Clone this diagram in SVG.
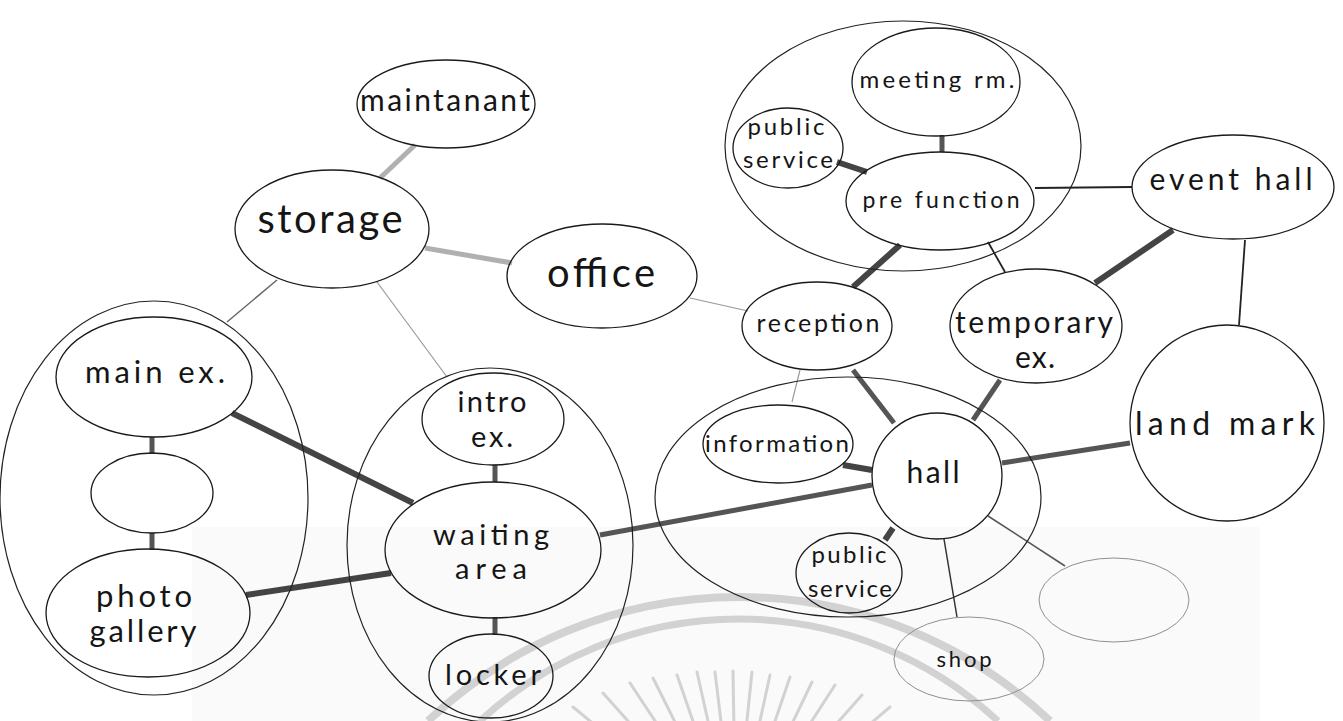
<svg xmlns="http://www.w3.org/2000/svg" width="1343" height="721" viewBox="0 0 1343 721">
  <style>
    .node { fill: none; stroke: #1a1a1a; stroke-width: 1.3; }
    .group { fill: none; stroke: #222; stroke-width: 1.2; }
    .faint { fill: none; stroke: #8f8f8f; stroke-width: 1; }
    .lbl { font-family: "Lato", "Liberation Sans", sans-serif; font-weight: 400; fill: #151515; text-anchor: middle; }
    .c { fill: none; stroke-linecap: butt; }
    .thick { stroke: #444; stroke-width: 6; }
    .mid { stroke: #555; stroke-width: 5; }
    .pale { stroke: #b0b0b0; stroke-width: 5; }
    .thin { stroke: #222; stroke-width: 1.8; }
    .hair { stroke: #999; stroke-width: 1.2; }
    .mark { fill: none; stroke: #d2d2d2; }
  </style>

  <rect x="0" y="0" width="1343" height="721" fill="#ffffff"/>
  <rect x="192" y="527" width="1068" height="194" fill="#fafafa"/>

  <!-- seal printed under the diagram -->
  <g id="seal" class="mark">
    <path d="M 428 721 A 452 452 0 0 1 1050 721" stroke-width="8"/>
    <path d="M 480 721 A 380 380 0 0 1 998 721" stroke-width="7"/>
    <g stroke-width="3" stroke-linecap="round">
      <line x1="573" y1="707" x2="601" y2="730"/>
      <line x1="603" y1="693" x2="636" y2="730"/>
      <line x1="630" y1="683" x2="661" y2="730"/>
      <line x1="653" y1="678" x2="679" y2="730"/>
      <line x1="677" y1="675" x2="696" y2="730"/>
      <line x1="697" y1="672" x2="710" y2="730"/>
      <line x1="715" y1="672" x2="722" y2="730"/>
      <line x1="733" y1="671" x2="734" y2="730"/>
      <line x1="752" y1="672" x2="746" y2="730"/>
      <line x1="770" y1="675" x2="758" y2="730"/>
      <line x1="790" y1="677" x2="772" y2="730"/>
      <line x1="812" y1="682" x2="789" y2="730"/>
      <line x1="835" y1="685" x2="806" y2="730"/>
      <line x1="862" y1="695" x2="831" y2="730"/>
      <line x1="890" y1="707" x2="863" y2="730"/>
    </g>
  </g>

  <!-- links between spaces -->
  <g id="connectors" class="c">
    <line class="pale" x1="415" y1="145" x2="380" y2="178" stroke="#a8a8a8"/>
    <line class="pale" x1="425" y1="248" x2="512" y2="263"/>
    <line x1="277" y1="280" x2="227" y2="322" stroke="#666" stroke-width="1.5"/>
    <line class="hair" x1="377" y1="282" x2="447" y2="377" stroke="#888"/>
    <line class="hair" x1="690" y1="298" x2="748" y2="311"/>
    <line class="thick" x1="232" y1="413" x2="413" y2="503" stroke="#333"/>
    <line class="mid" x1="152" y1="437" x2="152" y2="454"/>
    <line class="mid" x1="152" y1="533" x2="152" y2="550"/>
    <line class="thick" x1="246" y1="595" x2="391" y2="573" stroke="#555"/>
    <line class="mid" x1="495" y1="465" x2="495" y2="482" stroke="#444"/>
    <line class="mid" x1="495" y1="617" x2="495" y2="635" stroke="#666"/>
    <line class="mid" x1="600" y1="535" x2="872" y2="485"/>
    <line class="mid" x1="942" y1="135" x2="942" y2="152" stroke="#444"/>
    <line class="thick" x1="837" y1="162" x2="867" y2="172" stroke="#333"/>
    <line class="thin" x1="1035" y1="188" x2="1132" y2="187"/>
    <line class="thick" x1="900" y1="245" x2="853" y2="287"/>
    <line class="thin" x1="988" y1="242" x2="1005" y2="272"/>
    <line class="thick" x1="1173" y1="230" x2="1095" y2="283" stroke="#555"/>
    <line class="thin" x1="1245" y1="240" x2="1239" y2="325" stroke="#333"/>
    <line class="mid" x1="853" y1="370" x2="894" y2="423" stroke="#444"/>
    <line class="hair" x1="800" y1="370" x2="792" y2="402" stroke="#aaa" stroke-width="1"/>
    <line class="mid" x1="1000" y1="380" x2="973" y2="420"/>
    <line class="thick" x1="843" y1="465" x2="872" y2="470" stroke-width="7"/>
    <line class="mid" x1="1002" y1="463" x2="1130" y2="443"/>
    <line class="thick" x1="893" y1="528" x2="885" y2="540" stroke="#555"/>
    <line x1="944" y1="539" x2="957" y2="617" stroke="#333" stroke-width="1.5"/>
    <line x1="988" y1="516" x2="1065" y2="566" stroke="#555" stroke-width="1.5"/>
  </g>

  <!-- zone outlines -->
  <g id="zone-gallery"><ellipse class="group" cx="154" cy="498" rx="154" ry="197"/></g>
  <g id="zone-waiting"><ellipse class="group" cx="490" cy="545" rx="143" ry="177"/></g>
  <g id="zone-function"><ellipse class="group" cx="903" cy="146" rx="178" ry="125"/></g>
  <g id="zone-hall"><ellipse class="group" cx="848" cy="497" rx="193" ry="120"/></g>

  <!-- spaces -->
  <g id="maintanant">
    <ellipse class="node" cx="446" cy="104" rx="89" ry="44"/>
    <text class="lbl" x="445" y="111" font-size="30" textLength="170" lengthAdjust="spacing">maintanant</text>
  </g>
  <g id="storage">
    <ellipse class="node" cx="332" cy="229" rx="97" ry="59"/>
    <text class="lbl" x="330" y="233" font-size="40" textLength="145" lengthAdjust="spacing">storage</text>
  </g>
  <g id="office">
    <ellipse class="node" cx="602" cy="276" rx="95" ry="52"/>
    <text class="lbl" x="601" y="287" font-size="40" textLength="108" lengthAdjust="spacing">office</text>
  </g>
  <g id="main-ex">
    <ellipse class="node" cx="154" cy="377" rx="98" ry="60"/>
    <text class="lbl" x="155" y="383" font-size="31" textLength="140" lengthAdjust="spacing">main ex.</text>
  </g>
  <g id="blank-room">
    <ellipse class="node" cx="152" cy="493" rx="61" ry="40"/>
  </g>
  <g id="photo-gallery">
    <ellipse class="node" cx="148" cy="613" rx="102" ry="64"/>
    <text class="lbl" x="144" y="607" font-size="31" textLength="96" lengthAdjust="spacing">photo</text>
    <text class="lbl" x="143" y="642" font-size="31" textLength="107" lengthAdjust="spacing">gallery</text>
  </g>
  <g id="intro-ex">
    <ellipse class="node" cx="493" cy="419" rx="71" ry="46"/>
    <text class="lbl" x="492" y="412" font-size="29" textLength="69" lengthAdjust="spacing">intro</text>
    <text class="lbl" x="492" y="447" font-size="29" textLength="42" lengthAdjust="spacing">ex.</text>
  </g>
  <g id="waiting-area">
    <ellipse class="node" cx="493" cy="550" rx="108" ry="68"/>
    <text class="lbl" x="491" y="545" font-size="29" textLength="116" lengthAdjust="spacing">waiting</text>
    <text class="lbl" x="491" y="579" font-size="29" textLength="72" lengthAdjust="spacing">area</text>
  </g>
  <g id="locker">
    <ellipse class="node" cx="491" cy="676" rx="62" ry="42"/>
    <text class="lbl" x="493" y="685" font-size="29" textLength="96" lengthAdjust="spacing">locker</text>
  </g>
  <g id="meeting-rm">
    <ellipse class="node" cx="936" cy="82" rx="84" ry="54"/>
    <text class="lbl" x="937" y="88" font-size="24" textLength="155" lengthAdjust="spacing">meeting rm.</text>
  </g>
  <g id="public-service-upper">
    <ellipse class="node" cx="788" cy="148" rx="55" ry="40"/>
    <text class="lbl" x="786" y="135" font-size="24" textLength="77" lengthAdjust="spacing">public</text>
    <text class="lbl" x="788" y="168" font-size="24" textLength="90" lengthAdjust="spacing">service</text>
  </g>
  <g id="pre-function">
    <ellipse class="node" cx="940" cy="201" rx="94" ry="49"/>
    <text class="lbl" x="941" y="208" font-size="23" textLength="157" lengthAdjust="spacing">pre function</text>
  </g>
  <g id="event-hall">
    <ellipse class="node" cx="1233" cy="187" rx="101" ry="52"/>
    <text class="lbl" x="1231" y="190" font-size="30" textLength="163" lengthAdjust="spacing">event hall</text>
  </g>
  <g id="reception">
    <ellipse class="node" cx="817" cy="326" rx="75" ry="44"/>
    <text class="lbl" x="818" y="332" font-size="25" textLength="123" lengthAdjust="spacing">reception</text>
  </g>
  <g id="temporary-ex">
    <ellipse class="node" cx="1036" cy="326" rx="86" ry="57"/>
    <text class="lbl" x="1034" y="333" font-size="30" textLength="158" lengthAdjust="spacing">temporary</text>
    <text class="lbl" x="1035" y="368" font-size="30" textLength="40" lengthAdjust="spacing">ex.</text>
  </g>
  <g id="land-mark">
    <ellipse class="node" cx="1227" cy="423" rx="97" ry="98" stroke="#444" stroke-width="1.1"/>
    <text class="lbl" x="1225" y="435" font-size="32" textLength="180" lengthAdjust="spacing">land mark</text>
  </g>
  <g id="information">
    <ellipse class="node" cx="778" cy="444" rx="75" ry="39"/>
    <text class="lbl" x="777" y="452" font-size="24" textLength="144" lengthAdjust="spacing">information</text>
  </g>
  <g id="hall">
    <ellipse class="node" cx="937" cy="476" rx="65" ry="63"/>
    <text class="lbl" x="933" y="483" font-size="30" textLength="53" lengthAdjust="spacing">hall</text>
  </g>
  <g id="public-service-lower">
    <ellipse class="node" cx="849" cy="573" rx="53" ry="40" stroke="#333"/>
    <text class="lbl" x="849" y="563" font-size="24" textLength="75" lengthAdjust="spacing" fill="#333">public</text>
    <text class="lbl" x="850" y="597" font-size="24" textLength="84" lengthAdjust="spacing" fill="#333">service</text>
  </g>
  <g id="shop">
    <ellipse class="faint" cx="969" cy="659" rx="75" ry="42"/>
    <text class="lbl" x="964" y="667" font-size="22" textLength="55" lengthAdjust="spacing" fill="#777">shop</text>
  </g>
  <g id="blank-outlet">
    <ellipse class="faint" cx="1114" cy="600" rx="75" ry="42" stroke="#a0a0a0"/>
  </g>
</svg>
